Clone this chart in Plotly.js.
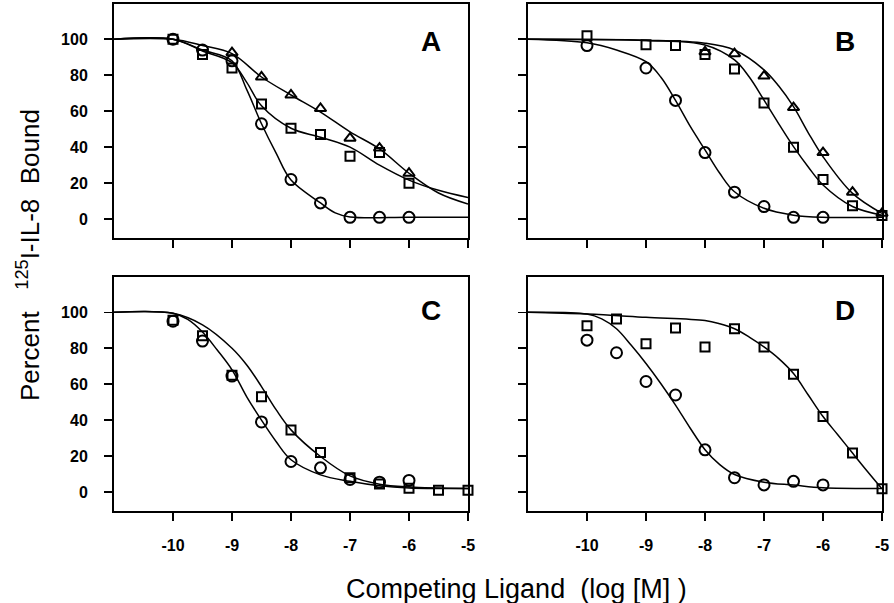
<!DOCTYPE html>
<html><head><meta charset="utf-8">
<script src="https://cdn.plot.ly/plotly-3.0.1.min.js"></script>
<style>html,body{margin:0;padding:0;background:#fff}#plot{width:894px;height:603px}</style>
</head><body><div id="plot"></div>
<script>
// ---------- data ----------
const doseX = [-10, -9.5, -9, -8.5, -8, -7.5, -7, -6.5, -6];
const doseXfull = [-10, -9.5, -9, -8.5, -8, -7.5, -7, -6.5, -6, -5.5, -5];
const xTickVals = [-10, -9, -8, -7, -6, -5];
const xTickText = ["-10", "-9", "-8", "-7", "-6", "-5"];
const yTickVals = [0, 20, 40, 60, 80, 100];
const yTickText = ["0", "20", "40", "60", "80", "100"];
const panelLetters = ["A", "B", "C", "D"];

// Panel A
const aCircX = doseX;
const aCircY = [100, 94, 88, 53, 22, 9, 1, 1, 1];
const aSqX = doseX;
const aSqY = [100, 91.5, 84, 64, 50.5, 47, 35, 37, 20];
const aTriX = [-9, -8.5, -8, -7.5, -7, -6.5, -6];
const aTriY = [92.5, 79, 69, 61.5, 45, 39.5, 25.5];
const aCircFitX = [-11, -10, -9.5, -9, -8.75, -8.5, -8.25, -8, -7.5, -7.25, -7, -6, -5];
const aCircFitY = [100, 100, 94, 88, 72, 53, 36.5, 21.7, 9, 3.5, 1.2, 1, 1];
const aSqFitX = [-11, -10, -9.5, -9, -8.75, -8.5, -8, -7.5, -7, -6.5, -6, -5.5, -5];
const aSqFitY = [100, 100, 93.5, 87, 76, 63, 50.5, 45.5, 40, 30, 21.7, 16, 12];
const aTriFitX = [-11, -10, -9.5, -9, -8.5, -8, -7.5, -7, -6.5, -6, -5.5, -5];
const aTriFitY = [100, 100, 96.5, 92, 79, 69, 59.5, 48.5, 39, 25.5, 14.5, 8.4];

// Panel B
const bCircX = [-10, -9, -8.5, -8, -7.5, -7, -6.5, -6];
const bCircY = [96.5, 84, 66, 37, 15, 7, 1, 1];
const bSqX = [-10, -9, -8.5, -8, -7.5, -7, -6.5, -6, -5.5, -5];
const bSqY = [102, 97, 96.5, 91.5, 83.5, 64.5, 40, 22, 7.5, 2];
const bTriX = [-8, -7.5, -7, -6.5, -6, -5.5, -5];
const bTriY = [93, 92, 79.5, 62, 37, 15, 3.2];
const bCircFitX = [-11, -10, -9.5, -9, -8.75, -8.5, -8.25, -8, -7.75, -7.5, -7, -6.5, -6, -5];
const bCircFitY = [100, 98, 94, 87.5, 79, 66, 51.5, 38.5, 25.5, 15.2, 6, 2.2, 1, 1];
const bSqFitX = [-11, -9, -8, -7.5, -7.25, -7, -6.75, -6.5, -6.25, -6, -5.5, -5];
const bSqFitY = [100, 99.3, 96.8, 88.5, 79, 66.2, 53, 40.3, 29, 19, 7, 2.2];
const bTriFitX = [-11, -9, -8, -7.5, -7, -6.75, -6.5, -6.25, -6, -5.5, -5];
const bTriFitY = [100, 99.5, 97.8, 94, 83, 74, 62.5, 48, 34.7, 14.3, 3.2];

// Panel C
const cCircX = doseX;
const cCircY = [95, 84, 64.5, 39, 17, 13.5, 7, 5.5, 6.5];
const cSqX = doseXfull;
const cSqY = [95.5, 87, 65, 53, 34.5, 22, 8, 4.5, 2.2, 1, 1];
const cCircFitX = [-11, -10, -9.75, -9.5, -9.25, -9, -8.75, -8.5, -8.25, -8, -7.5, -7, -6.5, -6, -5];
const cCircFitY = [100, 99.5, 96, 89, 79, 68, 53, 40, 28, 18, 9.6, 6, 3.5, 2.3, 2];
const cSqFitX = [-11, -10, -9.5, -9, -8.75, -8.5, -8.25, -8, -7.5, -7, -6.5, -6, -5];
const cSqFitY = [100, 99.4, 93, 80, 70.7, 58.7, 45.7, 34.6, 19.8, 9, 4.4, 2.8, 2];

// Panel D
const dCircX = doseX;
const dCircY = [84.5, 77.5, 61.5, 54, 23.5, 8, 4, 6, 4];
const dSqX = doseXfull;
const dSqY = [92.5, 96.3, 82.5, 91.3, 80.7, 90.8, 80.7, 65.5, 42, 21.7, 1.8];
const dCircFitX = [-11, -10, -9.75, -9.5, -9.25, -9, -8.75, -8.5, -8.25, -8, -7.75, -7.5, -7, -6.5, -6, -5];
const dCircFitY = [100, 99, 96.3, 90.8, 81.6, 71.5, 60.4, 48.4, 35.5, 23.6, 15.3, 9.8, 5.5, 3.9, 2.4, 2];
const dSqFitX = [-11, -10, -9, -8, -7.75, -7.5, -7.25, -7, -6.75, -6.5, -6.25, -6, -5.75, -5.5, -5.25, -5];
const dSqFitY = [100, 99, 97.2, 95.4, 93.6, 90.8, 86.2, 80.7, 74.2, 65.9, 54, 42, 31.9, 21.7, 11.6, 1.8];

// ---------- drawing ----------
const traces = [];
function fit(x, y, ax) {
  traces.push({x: x, y: y, xaxis: 'x' + ax, yaxis: 'y' + ax, mode: 'lines', type: 'scatter',
    line: {color: '#000', width: 1.5, shape: 'spline', smoothing: 1}, hoverinfo: 'skip', showlegend: false});
}
function pts(x, y, ax, sym, size) {
  traces.push({x: x, y: y, xaxis: 'x' + ax, yaxis: 'y' + ax, mode: 'markers', type: 'scatter',
    marker: {symbol: sym, size: size, color: '#000', line: {color: '#000', width: 2}},
    cliponaxis: false, showlegend: false});
}
fit(aCircFitX, aCircFitY, ''); fit(aSqFitX, aSqFitY, ''); fit(aTriFitX, aTriFitY, '');
pts(aTriX, aTriY, '', 'triangle-up-open', 10); pts(aSqX, aSqY, '', 'square-open', 9); pts(aCircX, aCircY, '', 'circle-open', 11);
fit(bCircFitX, bCircFitY, '2'); fit(bSqFitX, bSqFitY, '2'); fit(bTriFitX, bTriFitY, '2');
pts(bTriX, bTriY, '2', 'triangle-up-open', 10); pts(bSqX, bSqY, '2', 'square-open', 9); pts(bCircX, bCircY, '2', 'circle-open', 11);
fit(cCircFitX, cCircFitY, '3'); fit(cSqFitX, cSqFitY, '3');
pts(cSqX, cSqY, '3', 'square-open', 9); pts(cCircX, cCircY, '3', 'circle-open', 11);
fit(dCircFitX, dCircFitY, '4'); fit(dSqFitX, dSqFitY, '4');
pts(dSqX, dSqY, '4', 'square-open', 9); pts(dCircX, dCircY, '4', 'circle-open', 11);

const tickFont = {family: 'Liberation Sans, Arial, sans-serif', size: 16, color: '#000', weight: 'bold'};
function xa(domain, anchor, labels) {
  return {domain: domain, anchor: anchor, range: [-11, -5], showgrid: false, zeroline: false,
    showline: true, mirror: true, linecolor: '#000', linewidth: 2,
    ticks: 'outside', ticklen: 8, tickwidth: 1.5, tickcolor: '#000',
    tickvals: xTickVals, ticktext: xTickText, showticklabels: labels, tickfont: tickFont, ticklabelstandoff: 11};
}
function ya(domain, anchor, labels) {
  return {domain: domain, anchor: anchor, range: [-10.5, 119.6], showgrid: false, zeroline: false,
    showline: true, mirror: true, linecolor: '#000', linewidth: 2,
    ticks: 'outside', ticklen: 8, tickwidth: 1.5, tickcolor: '#000',
    tickvals: yTickVals, ticktext: yTickText, showticklabels: labels, tickfont: tickFont, ticklabelstandoff: 13};
}
const colL = [0.1275, 0.5235], colR = [0.5906, 0.9866];
const rowT = [0.6053, 0.9934], rowB = [0.1526, 0.5406];
const letterPos = [['x', 'y', 0.84], ['x2', 'y2', 0.84], ['x3', 'y3', 0.855], ['x4', 'y4', 0.855]];
const annotations = panelLetters.map((L, i) => ({
  text: L, xref: letterPos[i][0] + ' domain', yref: letterPos[i][1] + ' domain', x: 0.93, y: letterPos[i][2],
  xanchor: 'right', yanchor: 'middle', showarrow: false,
  font: {family: 'Liberation Sans, Arial, sans-serif', size: 28, color: '#000', weight: 'bold'}
}));
annotations.push({text: 'Percent   <sup>125</sup>I-IL-8  Bound', xref: 'paper', yref: 'paper', x: 29 / 894, y: 1 - 255 / 603,
  textangle: -90, showarrow: false, xanchor: 'center', yanchor: 'middle',
  font: {family: 'Liberation Sans, Arial, sans-serif', size: 26, color: '#000'}});
annotations.push({text: 'Competing Ligand  (log [M] )', xref: 'paper', yref: 'paper', x: 516 / 894, y: 1 - 589 / 603,
  showarrow: false, xanchor: 'center', yanchor: 'middle',
  font: {family: 'Liberation Sans, Arial, sans-serif', size: 27, color: '#000'}});

const layout = {
  width: 894, height: 603, margin: {l: 0, r: 0, t: 0, b: 0}, paper_bgcolor: '#fff', plot_bgcolor: '#fff',
  showlegend: false,
  xaxis: xa(colL, 'y', false), yaxis: ya(rowT, 'x', true),
  xaxis2: xa(colR, 'y2', false), yaxis2: ya(rowT, 'x2', false),
  xaxis3: xa(colL, 'y3', true), yaxis3: ya(rowB, 'x3', true),
  xaxis4: xa(colR, 'y4', true), yaxis4: ya(rowB, 'x4', false),
  annotations: annotations
};
Plotly.newPlot('plot', traces, layout, {displayModeBar: false, staticPlot: true});
</script></body></html>
